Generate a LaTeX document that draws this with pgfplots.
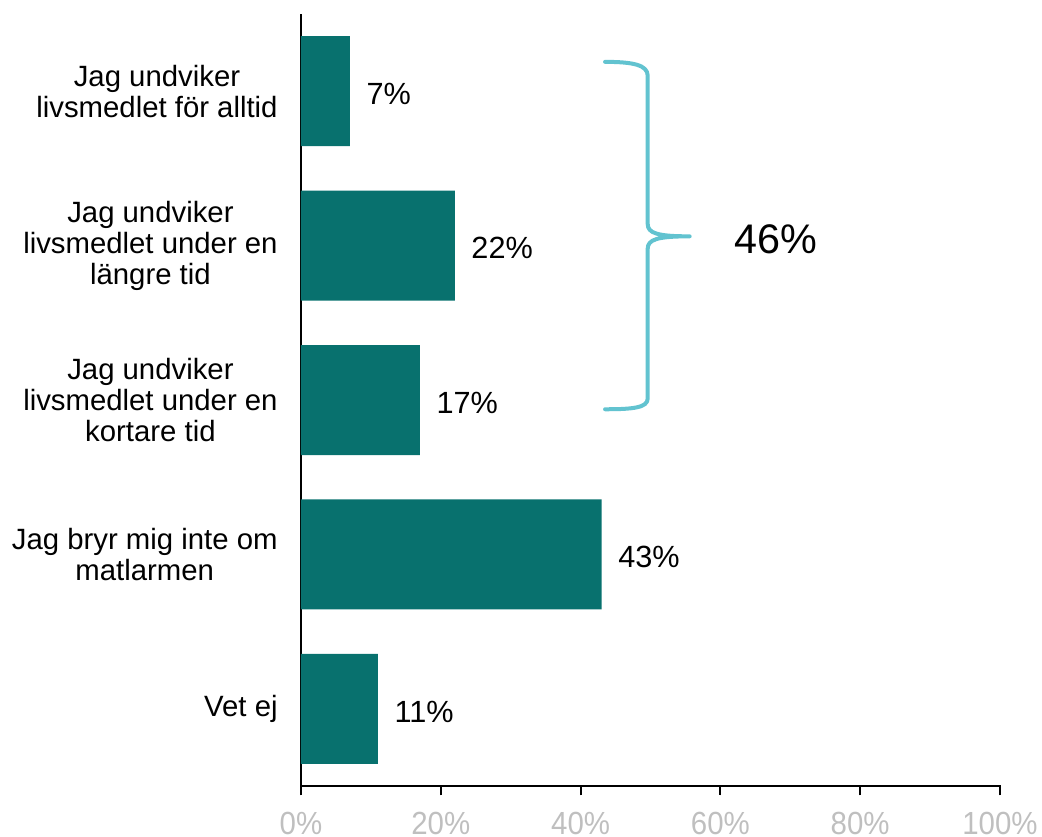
\documentclass[border=0pt]{standalone}
\usepackage{pgfplots}
\pgfplotsset{compat=1.18}
\usepackage{fontspec}
\setmainfont{Liberation Sans}
\newfontfamily\narrowfont[FakeStretch=0.92]{Liberation Sans}
\definecolor{barcol}{HTML}{08716E}
\definecolor{bracecol}{HTML}{62C3D0}
\definecolor{tickgray}{HTML}{BFBFBF}
\begin{document}
\begin{tikzpicture}
\useasboundingbox (-225.75pt,-37.5pt) rectangle (555.75pt,589.5pt);
\begin{axis}[
  at={(0,0)}, anchor=south west,
  xbar, scale only axis, width=524.25pt, height=579pt,
  xmin=0, xmax=100, ymin=-0.5, ymax=4.5,
  axis x line=bottom, axis y line=left,
  axis line style={line width=1.2pt, -},
  clip=false,
  ytick={0,1,2,3,4},
  yticklabels={{Vet ej},{Jag bryr mig inte om\\matlarmen},{Jag undviker\\livsmedlet under en\\kortare tid},{Jag undviker\\livsmedlet under en\\längre tid},{Jag undviker\\livsmedlet för alltid}},
  yticklabel style={align=center, anchor=east, xshift=-7pt, font=\fontsize{22}{23.25}\selectfont},
  xtick={0,20,40,60,80,100},
  xticklabels={0\%,20\%,40\%,60\%,80\%,100\%},
  xticklabel style={font=\narrowfont\fontsize{24}{28}\selectfont, text=tickgray, yshift=-9pt},
  tick align=outside,
  major tick length=7pt,
  every tick/.style={draw=black, line width=1.2pt},
  ytick style={opacity=0},
  /pgf/number format/assume math mode=true,
  bar width=82.5pt,
  point meta=x,
  nodes near coords={\pgfmathprintnumber{\pgfplotspointmeta}\%},
  nodes near coords style={font=\fontsize{23}{25}\selectfont, text=black, anchor=west, xshift=9pt, yshift=-2pt},
]
\addplot[fill=barcol, draw=none] coordinates {(7,4) (22,3) (17,2) (43,1) (11,0)};
\coordinate (t0) at (axis cs:0,-0.5);
\coordinate (t1) at (axis cs:20,-0.5);
\coordinate (t2) at (axis cs:40,-0.5);
\coordinate (t3) at (axis cs:60,-0.5);
\coordinate (t4) at (axis cs:80,-0.5);
\coordinate (t5) at (axis cs:100,-0.5);
\draw[bracecol, line width=3pt, line cap=round, line join=round]
  (axis cs:43.5,4.19) .. controls (axis cs:47.5,4.19) and (axis cs:49.6,4.17) .. (axis cs:49.6,4.1)
  -- (axis cs:49.6,3.14) .. controls (axis cs:49.6,3.08) and (axis cs:51,3.06) .. (axis cs:55.6,3.06)
  .. controls (axis cs:51,3.06) and (axis cs:49.6,3.04) .. (axis cs:49.6,2.98)
  -- (axis cs:49.6,2.01) .. controls (axis cs:49.6,1.95) and (axis cs:47.5,1.94) .. (axis cs:43.5,1.94);
\node[font=\fontsize{31}{34}\selectfont] at (axis cs:67.9,3.04) {46\%};
\end{axis}
\foreach \t in {t0,t1,t2,t3,t4,t5}{
  \draw[black, line width=1.5pt] ([yshift=0.5pt]\t) -- ++(0pt,-7.5pt);
}
\end{tikzpicture}
\end{document}
